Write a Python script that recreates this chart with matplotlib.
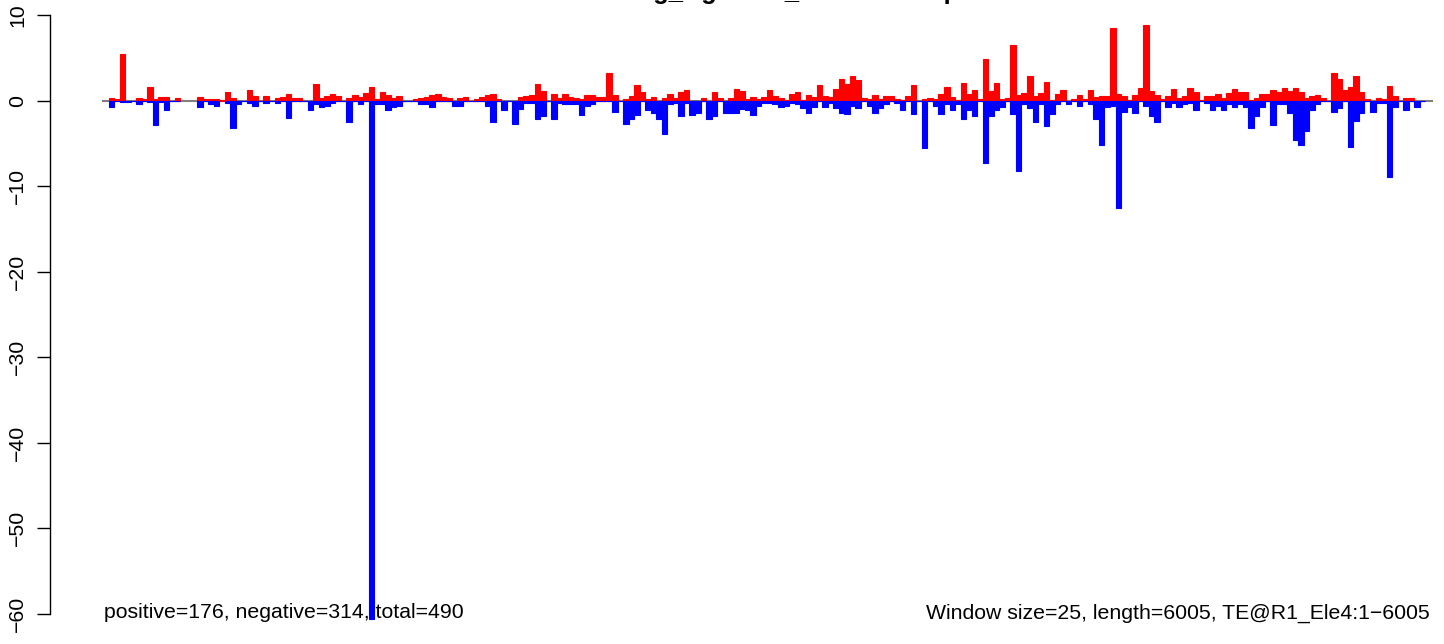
import numpy as np
import matplotlib
matplotlib.use("Agg")
import matplotlib.pyplot as plt

plt.rcParams['font.family'] = ['Liberation Sans', 'DejaVu Sans']

nan = np.nan

# sliding windows of 25 bp along the TE (6005 bp -> 241 windows)
window_size = 25
te_length = 6005

# sense (positive) counts per window, log-ish scale as in the plot
positive = [
    nan, 0.3, 0.15, 5.4, 0, 0, 0.3, 0.15, 1.6, 0.2,
    0.45, 0.45, 0, 0.3, nan, nan, nan, 0.45, 0.2, 0.2,
    0.2, 0.1, 1.0, 0.3, 0, 0, 1.25, 0.55, 0, 0.55,
    0, 0.3, 0.45, 0.8, 0.3, 0.3, 0, 0, 1.95, 0.3,
    0.55, 0.8, 0.55, 0, 0.3, 0.65, 0.45, 0.9, 1.6, 0.2,
    1.0, 0.65, 0.3, 0.55, 0, 0, 0.2, 0.3, 0.45, 0.6,
    0.8, 0.45, 0.3, 0, 0.3, 0.45, 0, 0.2, 0.45, 0.65,
    0.8, 0.2, 0, 0, 0, 0.45, 0.55, 0.65, 1.95, 1.15,
    0, 0.8, 0.3, 0.8, 0.45, 0.3, 0.2, 0.65, 0.65, 0.45,
    0.45, 3.25, 0.65, 0, 0.2, 0.55, 1.85, 1.0, 0.2, 0.45,
    0, 0.3, 0.8, 0.3, 1.0, 1.25, 0, 0, 0.3, 0,
    1.0, 0.3, 0, 0.3, 1.35, 1.15, 0.2, 0.45, 0.2, 0.45,
    1.25, 0.55, 0.3, 0.1, 0.8, 1.0, 0.1, 0.65, 0.4, 1.8,
    0.55, 0.4, 1.35, 2.5, 1.95, 2.9, 2.4, 0.3, 0.2, 0.65,
    0.2, 0.55, 0.55, 0.2, 0.1, 0.55, 1.8, 0, 0.15, 0.3,
    0.2, 0.8, 1.6, 0.4, 0.1, 2.05, 0.8, 1.25, 0.15, 4.85,
    1.15, 2.05, 0.2, 0.3, 6.5, 0.65, 0.9, 2.9, 0.55, 0.9,
    2.2, 0.1, 0.8, 1.25, 0, 0.2, 0.65, 0.2, 1.25, 0.4,
    0.55, 0.55, 8.5, 0.8, 0.55, 0.1, 0.65, 1.5, 8.85, 1.15,
    0.65, 0.2, 0.55, 1.35, 0.3, 0.55, 1.5, 1.0, 0.1, 0.55,
    0.55, 0.8, 0.3, 0.9, 1.35, 1.0, 1.0, 0.1, 0.3, 0.8,
    0.8, 1.25, 1.0, 1.5, 1.15, 1.5, 1.0, 0.3, 0.55, 0.65,
    0.3, 0, 3.2, 2.5, 1.25, 1.6, 2.9, 1.0, 0.2, 0,
    0.3, 0.2, 1.7, 0.55, 0, 0.3, 0.3, 0, 0, nan,
    nan,
]

# antisense (negative) counts per window
negative = [
    nan, -0.7, -0.1, -0.15, -0.15, 0, -0.35, 0, -0.15, -2.8,
    -0.15, -1.15, -0.1, -0.1, nan, nan, nan, -0.7, 0, -0.35,
    -0.6, nan, -0.25, -3.15, -0.35, -0.1, -0.25, -0.6, 0, -0.25,
    0, -0.25, 0, -2.0, -0.1, -0.1, -0.1, -1.15, -0.35, -0.7,
    -0.6, -0.25, -0.1, -0.1, -2.45, -0.1, -0.35, -0.1, -60.6, -0.35,
    -0.45, -1.05, -0.8, -0.6, -0.1, -0.1, -0.1, -0.45, -0.45, -0.8,
    -0.1, -0.1, 0, -0.6, -0.6, -0.1, -0.1, 0, -0.1, -0.6,
    -2.45, -0.1, -1.05, -0.1, -2.7, -0.95, -0.25, -0.25, -2.2, -1.85,
    0, -2.2, -0.25, -0.45, -0.35, -0.35, -1.65, -0.6, -0.45, 0,
    -0.1, -0.1, -1.3, 0, -2.7, -2.2, -1.65, 0, -1.05, -1.4,
    -2.1, -3.85, -0.35, -0.25, -1.85, -0.25, -1.65, -1.4, 0, -2.2,
    -1.75, 0, -1.4, -1.4, -1.4, -0.95, -1.05, -1.65, -0.6, -0.25,
    -0.25, -0.45, -0.7, -0.6, -0.3, -0.45, -0.9, -1.5, -0.8, 0,
    -0.7, -0.25, -0.9, -1.4, -1.6, -0.6, -0.9, 0, -0.6, -1.5,
    -0.9, -0.35, -0.1, -0.25, -1.05, -0.1, -1.6, -0.1, -5.6, -0.1,
    -0.6, -1.6, -0.35, -1.05, -0.35, -2.1, -1.05, -1.85, 0, -7.35,
    -1.75, -1.05, -0.7, 0, -1.6, -8.2, -0.45, -0.9, -2.45, -0.35,
    -3.0, -1.6, -0.35, -0.1, -0.45, 0, -0.6, 0, -0.45, -2.2,
    -5.15, -0.7, -0.6, -12.5, -1.3, -0.8, -1.4, 0, -0.6, -1.85,
    -2.45, -0.1, -0.8, -0.25, -0.8, -0.35, -0.25, -1.05, 0, -0.25,
    -1.05, -0.6, -1.05, -0.35, -0.8, -0.35, -0.7, -3.25, -1.85, -0.8,
    0, -2.8, -0.45, -0.35, -1.5, -4.55, -5.25, -3.6, -1.05, -0.35,
    0, -0.1, -1.3, -0.9, 0, -5.4, -2.35, -1.5, 0, -1.3,
    -0.25, -0.25, -8.9, -0.8, -0.1, -1.15, -0.1, -0.7, 0, nan,
    nan,
]

yticks = [10, 0, -10, -20, -30, -40, -50, -60]
title = "Binding_Ago12IP_TEReadsMap"
left_note = "positive=176, negative=314, total=490"
right_note = "Window size=25, length=6005, TE@R1_Ele4:1\u22126005"

starts = np.arange(len(positive)) * window_size

fig = plt.figure(figsize=(14.44, 6.44), dpi=100)
ax = fig.add_axes([50 / 1444, 0, 1394 / 1444, 1])

ax.plot([0, te_length], [0, 0], color='grey', lw=1.5, zorder=1)
ax.bar(starts, positive, width=window_size, align='edge',
       color='#ff0000', edgecolor='#ff0000', lw=0.8, zorder=2)
ax.bar(starts, negative, width=window_size, align='edge',
       color='#0000ff', edgecolor='#0000ff', lw=0.8, zorder=3)

px_per_bp = 1329 / te_length
ax.set_xlim(-53 / px_per_bp, te_length + 12 / px_per_bp)
ax.set_ylim(10 - 629 / 8.557, 10 + 15 / 8.557)

for s in ['top', 'right', 'bottom']:
    ax.spines[s].set_visible(False)
ax.spines['left'].set_bounds(-60, 10)
ax.spines['left'].set_linewidth(1.0)
ax.set_xticks([])
ax.set_yticks(yticks)
ax.tick_params(axis='y', length=9.4, width=1.0, pad=7, labelsize=15.3)
plt.setp(ax.get_yticklabels(), rotation=90, va='center', ha='right')

fig.text(104 / 1444, 31 / 644, left_note, ha='left', va='center', fontsize=15.3)
fig.text(1430 / 1444, 31 / 644, right_note, ha='right', va='center', fontsize=15.3)
fig.text(767 / 1444, 1 + 1 / 644, title, ha='center', va='baseline',
         fontsize=18.4, fontweight='bold')

fig.savefig('out.png', dpi=100)
